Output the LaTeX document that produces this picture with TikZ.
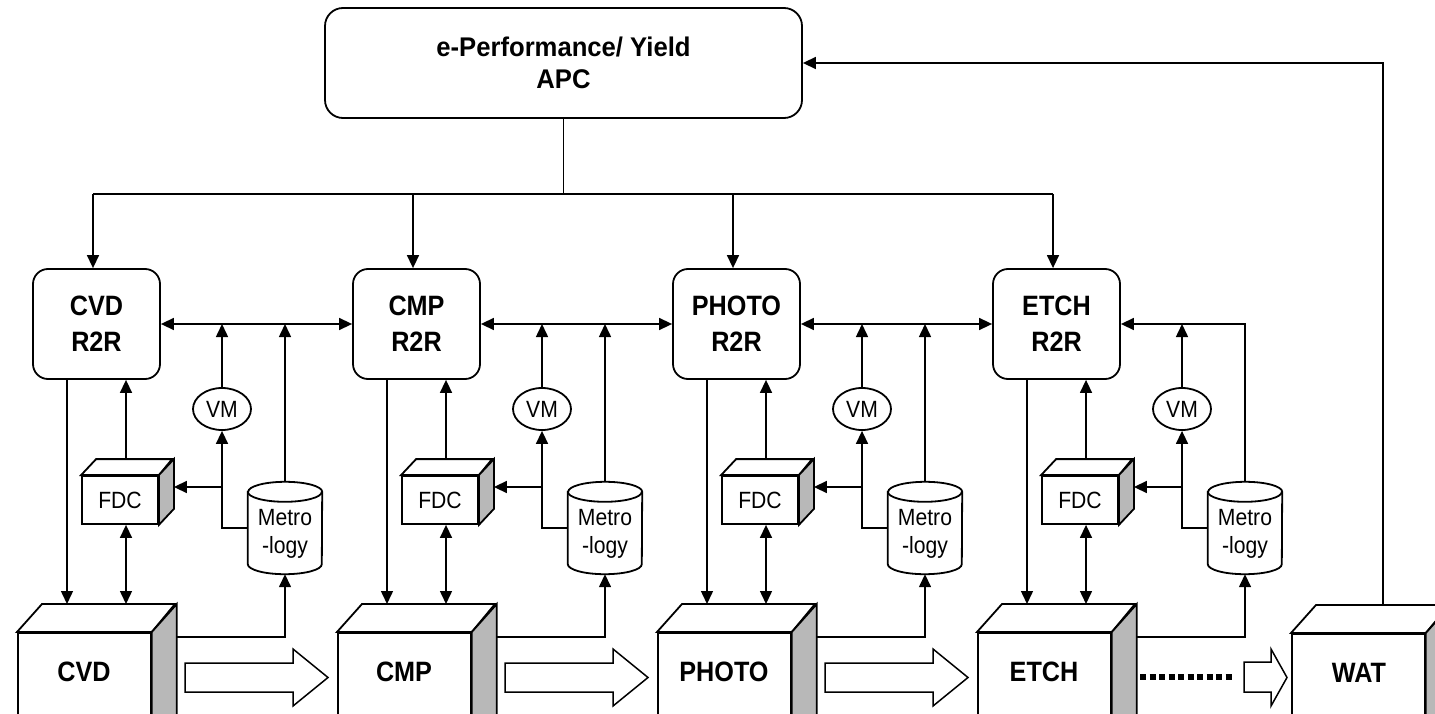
\documentclass[tikz,border=0pt]{standalone}
\usepackage{fontspec}
\usepackage{graphicx}
\setmainfont{Liberation Sans}
\usetikzlibrary{arrows.meta,shapes.geometric}
% slightly condensed lettering
\newcommand\narrowtxt[1]{\scalebox{0.9}[1]{#1}}

\begin{document}
\begin{tikzpicture}[x=1pt,y=-1pt,
  conn/.style={line width=1.5pt},
  arr/.style={conn,-{Triangle[length=13pt,width=12pt]}},
  darr/.style={conn,{Triangle[length=13pt,width=12pt]}-{Triangle[length=13pt,width=12pt]}},
  outline/.style={line width=1.8pt,draw=black,fill=white},
  sideface/.style={line width=1.8pt,draw=black,fill=black!28},
  boldlbl/.style={font=\fontsize{28pt}{36pt}\selectfont\bfseries,align=center,inner sep=0pt},
  smalllbl/.style={font=\fontsize{23.5pt}{28pt}\selectfont,align=center,inner sep=0pt},
  ctrl/.style={outline,rounded corners=15pt,minimum width=127pt,minimum height=110pt,boldlbl},
  apcbox/.style={outline,rounded corners=18pt,minimum width=477pt,minimum height=110pt,
    font=\fontsize{27pt}{32pt}\selectfont\bfseries,align=center,inner sep=0pt},
  fdcface/.style={outline,minimum width=76pt,minimum height=48pt,smalllbl},
  vmnode/.style={outline,ellipse,minimum width=58pt,minimum height=42pt,inner sep=0pt,smalllbl},
  toolface/.style={outline,minimum width=133pt,minimum height=160pt,inner sep=0pt,anchor=north west},
]
\useasboundingbox (0,0) rectangle (1435,714);
\clip (0,0) rectangle (1435,714);

% top-level controller
\node[apcbox] (apc) at (563.5,63) {\scalebox{0.95}[1]{e-Performance/ Yield}\\\scalebox{0.95}[1]{APC}};

% one process stage: controller, FDC, VM, metrology and tool
\foreach \ox/\nm/\tool in {0/cvd/CVD,320/cmp/CMP,640/photo/PHOTO,960/etch/ETCH}{
  \node[ctrl] (r2r-\nm) at (96.5+\ox,324) {\narrowtxt{\tool}\\\narrowtxt{R2R}};

  % FDC block
  \node[fdcface] (fdc-\nm) at (120+\ox,500) {\narrowtxt{FDC}};
  \draw[outline] (fdc-\nm.north west) -- ++(15pt,16pt) -- ++(76pt,0pt) -- (fdc-\nm.north east) -- cycle;
  \draw[sideface] (fdc-\nm.north east) -- ++(15pt,16pt) -- ([xshift=15pt,yshift=16pt]fdc-\nm.south east) -- (fdc-\nm.south east) -- cycle;
  \coordinate (fdcr-\nm) at ([xshift=15pt,yshift=13pt]fdc-\nm.east);

  % virtual metrology
  \node[vmnode] (vm-\nm) at (222+\ox,409) {\narrowtxt{VM}};

  % metrology database
  \node[minimum width=74pt,minimum height=92pt,inner sep=0pt] (met-\nm) at (285+\ox,528) {};
  \draw[outline] ([yshift=-10pt]met-\nm.north west) -- ([yshift=10pt]met-\nm.south west)
    arc[start angle=180,end angle=360,x radius=37pt,y radius=10pt]
    -- ([yshift=-10pt]met-\nm.north east)
    arc[start angle=0,end angle=180,x radius=37pt,y radius=10pt] -- cycle;
  \draw[line width=1.8pt] ([yshift=-10pt]met-\nm.north west)
    arc[start angle=180,end angle=360,x radius=37pt,y radius=10pt];
  \node[smalllbl] at ([yshift=-6pt]met-\nm.center) {\narrowtxt{Metro}\\\narrowtxt{-logy}};

  % process tool
  \node[toolface] (cube-\nm) at (17+\ox,632) {};
  \draw[outline] (cube-\nm.north west) -- ++(25pt,28pt) -- ++(133pt,0pt) -- (cube-\nm.north east) -- cycle;
  \draw[sideface] (cube-\nm.north east) -- ++(25pt,28pt) -- ([xshift=25pt,yshift=28pt]cube-\nm.south east) -- (cube-\nm.south east) -- cycle;
  \node[boldlbl] (lbl-\nm) at (84+\ox,672) {\narrowtxt{\tool}};
  \coordinate (ctop-\nm) at ([yshift=28pt]cube-\nm.north);

  % stage connectors
  \draw[arr] ([xshift=-29.5pt]r2r-\nm.south) -- ([xshift=-29.5pt]r2r-\nm.south |- ctop-\nm);
  \draw[arr] ([xshift=6pt,yshift=16pt]fdc-\nm.north) -- ([xshift=6pt]fdc-\nm.north |- r2r-\nm.south);
  \draw[darr] ([xshift=6pt]fdc-\nm.south) -- ([xshift=6pt]fdc-\nm.south |- ctop-\nm);
  \draw[arr] (met-\nm.west) -- (vm-\nm.south |- met-\nm.west) -- (vm-\nm.south);
  \draw[arr] (vm-\nm.south |- fdcr-\nm) -- (fdcr-\nm);
  \draw[arr] (vm-\nm.north) -- (vm-\nm.north |- r2r-\nm.east);
  \draw[arr] ([xshift=25pt,yshift=-5pt]cube-\nm.north east) -| (met-\nm.south);
}

% metrology feedback to the bus
\foreach \nm in {cvd,cmp,photo}{
  \draw[arr] (met-\nm.north) -- (met-\nm.north |- r2r-\nm.east);
}
\draw[arr] (met-etch.north) |- (r2r-etch.east);

% controller bus between stages
\draw[darr] (r2r-cvd.east) -- (r2r-cmp.west);
\draw[darr] (r2r-cmp.east) -- (r2r-photo.west);
\draw[darr] (r2r-photo.east) -- (r2r-etch.west);

% distribution from APC
\coordinate (hub) at ([yshift=-75pt]apc.south);
\draw[conn] (apc.south) -- (hub);
\draw[conn] ([xshift=-3.5pt]r2r-cvd.north |- hub) -- ([xshift=-3.5pt]r2r-etch.north |- hub);
\foreach \nm in {cvd,cmp,photo,etch}{
  \draw[arr] ([xshift=-3.5pt]r2r-\nm.north |- hub) -- ([xshift=-3.5pt]r2r-\nm.north);
}

% WAT tool
\node[toolface] (cube-wat) at (1291,633) {};
\draw[outline] (cube-wat.north west) -- ++(25pt,28pt) -- ++(133pt,0pt) -- (cube-wat.north east) -- cycle;
\draw[sideface] (cube-wat.north east) -- ++(25pt,28pt) -- ([xshift=25pt,yshift=28pt]cube-wat.south east) -- (cube-wat.south east) -- cycle;
\node[boldlbl] (lbl-wat) at (1359,673) {\narrowtxt{WAT}};
\coordinate (ctop-wat) at ([yshift=28pt]cube-wat.north);
\draw[arr] ([xshift=24.5pt]ctop-wat) |- (apc.east);

% wafer flow arrows
\foreach \ox in {0,320,640}{
  \draw[line width=1.5pt,fill=white] (185+\ox,663) -- (293+\ox,663) -- (293+\ox,649) -- (328+\ox,677.5)
    -- (293+\ox,706) -- (293+\ox,692) -- (185+\ox,692) -- cycle;
}
\draw[line width=6pt,dash pattern=on 6pt off 3.5pt] (1140,677) -- (1234,677);
\draw[line width=1.5pt,fill=white] (1244,662) -- (1271,662) -- (1271,649) -- (1287,677.5)
  -- (1271,706) -- (1271,692) -- (1244,692) -- cycle;
\end{tikzpicture}
\end{document}
